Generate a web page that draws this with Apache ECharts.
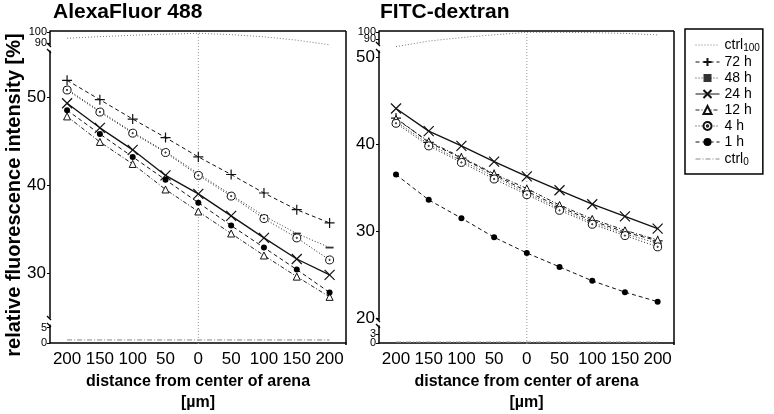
<!DOCTYPE html>
<html>
<head>
<meta charset="utf-8">
<script src="https://cdn.jsdelivr.net/npm/echarts@6/dist/echarts.min.js"></script>
<style>html,body{margin:0;padding:0;background:#fff}#c{width:774px;height:414px}</style>
</head>
<body>
<div id="c"></div>
<script>
// ---- data ----
var distances = [-200, -150, -100, -50, 0, 50, 100, 150, 200];
var xTickValues = [-200, -150, -100, -50, 0, 50, 100, 150, 200];
var seriesNames = ['ctrl100', '72 h', '48 h', '24 h', '12 h', '4 h', '1 h', 'ctrl0'];
var panelTitles = ['AlexaFluor 488', 'FITC-dextran'];

// AlexaFluor 488
var af_ctrl100 = [94.3, 95.8, 97.0, 98.0, 98.8, 97.6, 95.6, 92.6, 88.4];
var af_72h = [51.9, 49.7, 47.5, 45.4, 43.2, 41.2, 39.1, 37.2, 35.7];
var af_48h = [50.9, 48.4, 46.0, 43.8, 41.3, 38.9, 36.5, 34.5, 32.9];
var af_24h = [49.3, 46.5, 44.0, 41.1, 39.0, 36.5, 34.0, 31.6, 29.8];
var af_12h = [47.8, 44.9, 42.4, 39.5, 37.0, 34.5, 32.0, 29.6, 27.3];
var af_4h = [50.8, 48.3, 45.9, 43.7, 41.1, 38.75, 36.2, 34.0, 31.5];
var af_1h = [48.5, 45.8, 43.2, 40.6, 38.0, 35.4, 32.9, 30.4, 27.8];
var af_ctrl0 = [1.0, 1.0, 1.0, 1.0, 1.0, 1.0, 1.0, 1.0, 1.0];

// FITC-dextran
var fd_ctrl100 = [79, 87, 92, 96, 99.5, 99.5, 99, 98, 95.8];
var fd_72h = [43.0, 40.2, 38.4, 36.5, 34.6, 32.8, 31.2, 29.9, 28.9];
var fd_48h = [42.6, 40.0, 38.1, 36.3, 34.4, 32.6, 31.0, 29.7, 28.6];
var fd_24h = [44.1, 41.5, 39.8, 38.0, 36.3, 34.7, 33.1, 31.7, 30.3];
var fd_12h = [42.9, 40.3, 38.5, 36.6, 34.9, 33.0, 31.4, 30.1, 29.0];
var fd_4h = [42.4, 39.8, 37.9, 36.0, 34.2, 32.4, 30.8, 29.5, 28.2];
var fd_1h = [36.5, 33.6, 31.5, 29.3, 27.5, 25.9, 24.3, 23.0, 21.9];
var fd_ctrl0 = [0.3, 0.3, 0.3, 0.3, 0.3, 0.3, 0.3, 0.3, 0.3];

// y tick labels per segment
var afTopTicks = [90, 100], afMidTicks = [30, 40, 50], afBotTicks = [0, 5];
var fdTopTicks = [90, 100], fdMidTicks = [20, 30, 40, 50], fdBotTicks = [0, 3];

// ---- layout/style ----
var FONT = '"Liberation Sans", Arial, sans-serif';
var panels = [
  {left: 50, width: 296, segs: [
    {top: 31, height: 14, min: 88.2, max: 100.9, ticks: afTopTicks, small: true},
    {top: 51, height: 267, min: 24.9, max: 55.23, ticks: afMidTicks, small: false},
    {top: 325, height: 20, min: 0, max: 5.88, ticks: afBotTicks, small: true}
  ]},
  {left: 379, width: 295, segs: [
    {top: 31, height: 13, min: 82.8, max: 101.4, ticks: fdTopTicks, small: true},
    {top: 51, height: 269, min: 19.8, max: 50.7, ticks: fdMidTicks, small: false},
    {top: 326, height: 19, min: 0, max: 5.7, ticks: fdBotTicks, small: true}
  ]}
];

var styles = {
  'ctrl100': {line: {type: [1, 2], color: '#777', width: 1}, symbol: 'none'},
  '72 h': {line: {type: [4, 3], color: '#111', width: 1}, symbol: 'path://M5,0L5,10M0,5L10,5', size: 10,
           item: {color: 'none', borderColor: '#111', borderWidth: 1.2}},
  '48 h': {line: {type: [1, 2], color: '#333', width: 1}, symbol: 'path://M0,0L10,0L10,2L0,2Z', size: [8, 1.8], item: {color: '#333'}},
  '24 h': {line: {type: 'solid', color: '#111', width: 1.3}, symbol: 'path://M0,0L10,10M10,0L0,10', size: 10,
           item: {color: 'none', borderColor: '#111', borderWidth: 1.2}},
  '12 h': {line: {type: [4, 2, 1, 2], color: '#222', width: 1}, symbol: 'triangle', size: 7,
           item: {color: '#fff', borderColor: '#111', borderWidth: 1}},
  '4 h': {line: {type: [1, 2], color: '#222', width: 1},
          symbol: 'path://M5,0A5,5 0 1 1 4.99,0ZM5,4.2A0.8,0.8 0 1 1 4.99,4.2Z', size: 8,
          item: {color: '#fff', borderColor: '#111', borderWidth: 1}},
  '1 h': {line: {type: [4, 3], color: '#111', width: 1}, symbol: 'circle', size: 6, item: {color: '#000'}},
  'ctrl0': {line: {type: [5, 2, 1, 2], color: '#888', width: 1}, symbol: 'none'}
};

var grids = [], xAxes = [], yAxes = [], series = [], mainY = [];
panels.forEach(function (p, pi) {
  p.segs.forEach(function (s, si) {
    var gi = grids.length;
    grids.push({left: p.left, width: p.width, top: s.top, height: s.height, containLabel: false});
    var isBottom = si === 2;
    xAxes.push({
      type: 'value', gridIndex: gi, min: -226, max: 225, show: isBottom, position: 'bottom',
      axisLine: {show: true, onZero: false, lineStyle: {color: '#000', width: 1.5}},
      axisTick: {show: false},
      splitLine: {show: false},
      axisLabel: {customValues: xTickValues, formatter: function (v) { return String(Math.abs(v)); },
                  color: '#000', fontSize: 17, fontFamily: FONT, margin: 8},
      name: isBottom ? 'distance from center of arena\n[µm]' : '',
      nameLocation: 'middle', nameGap: 28,
      nameTextStyle: {fontSize: 16, fontWeight: 'bold', fontFamily: FONT, color: '#000', lineHeight: 21}
    });
    mainY[gi] = yAxes.length;
    yAxes.push({
      type: 'value', gridIndex: gi, min: s.min, max: s.max, position: 'left', offset: 0,
      axisLine: {show: true, onZero: false, lineStyle: {color: '#000', width: 1.5}},
      axisTick: {show: true, inside: false, length: 3, customValues: s.ticks, lineStyle: {color: '#000', width: 1}},
      splitLine: {show: false},
      axisLabel: {show: false}
    });
    s.ticks.forEach(function (v) {
      yAxes.push({
        type: 'value', gridIndex: gi, min: s.min, max: s.max, position: 'left', offset: 0,
        axisLine: {show: false, onZero: false}, axisTick: {show: false}, splitLine: {show: false},
        axisLabel: {customValues: [v], color: '#000', fontFamily: FONT,
                    fontSize: s.small ? 11 : 17, margin: s.small ? 3 : 4, lineHeight: s.small ? 10 : 17}
      });
    });
  });
});

function addSeries(name, vals, gridIndex) {
  var st = styles[name];
  series.push({
    type: 'line', name: name, xAxisIndex: gridIndex, yAxisIndex: mainY[gridIndex],
    data: distances.map(function (d, i) { return [d, vals[i]]; }),
    symbol: st.symbol, symbolSize: st.size || 6, showSymbol: st.symbol !== 'none',
    lineStyle: st.line, itemStyle: st.item || {color: st.line.color},
    clip: false, silent: true, animation: false, z: 3
  });
}
addSeries('ctrl100', af_ctrl100, 0);
addSeries('72 h', af_72h, 1);
addSeries('48 h', af_48h, 1);
addSeries('24 h', af_24h, 1);
addSeries('12 h', af_12h, 1);
addSeries('4 h', af_4h, 1);
addSeries('1 h', af_1h, 1);
addSeries('ctrl0', af_ctrl0, 2);
addSeries('ctrl100', fd_ctrl100, 3);
addSeries('72 h', fd_72h, 4);
addSeries('48 h', fd_48h, 4);
addSeries('24 h', fd_24h, 4);
addSeries('12 h', fd_12h, 4);
addSeries('4 h', fd_4h, 4);
addSeries('1 h', fd_1h, 4);
addSeries('ctrl0', fd_ctrl0, 5);

var legendData = seriesNames.map(function (n) {
  if (n === 'ctrl100' || n === 'ctrl0') {
    return {name: n, itemStyle: {opacity: 0, color: 'rgba(0,0,0,0)', borderWidth: 0}};
  }
  return {name: n};
});

var chart = echarts.init(document.getElementById('c'), null, {renderer: 'canvas'});
chart.setOption({
  animation: false,
  backgroundColor: '#fff',
  textStyle: {fontFamily: FONT},
  title: [
    {text: panelTitles[0], left: 53, top: 2, padding: 0, textStyle: {fontSize: 21, fontWeight: 'bold', color: '#000', fontFamily: FONT}},
    {text: panelTitles[1], left: 380, top: 2, padding: 0, textStyle: {fontSize: 21, fontWeight: 'bold', color: '#000', fontFamily: FONT}}
  ],
  legend: {
    data: legendData, orient: 'vertical', left: 685, top: 29,
    itemWidth: 24, itemHeight: 10, itemGap: 2,
    padding: [8, 3, 7, 10],
    borderColor: '#000', borderWidth: 1.5,
    selectedMode: false,
    lineStyle: {width: 1},
    textStyle: {fontSize: 14, color: '#000', fontFamily: FONT, lineHeight: 14,
      rich: {m: {fontSize: 14, lineHeight: 14, fontFamily: FONT, color: '#000'},
             s: {fontSize: 10, lineHeight: 14, fontFamily: FONT, color: '#000', padding: [6, 0, 0, 0]}}},
    formatter: function (n) {
      if (n === 'ctrl100') return '{m|ctrl}{s|100}';
      if (n === 'ctrl0') return '{m|ctrl}{s|0}';
      return n;
    }
  },
  grid: grids, xAxis: xAxes, yAxis: yAxes, series: series
});

// decorations: frame, center lines, axis-break marks
var g = [];
panels.forEach(function (p, pi) {
  var top = p.segs[0].top, bottom = p.segs[2].top + p.segs[2].height;
  var right = p.left + p.width;
  var x0 = chart.convertToPixel({xAxisIndex: pi * 3 + 2}, 0);
  g.push({type: 'line', shape: {x1: x0, y1: top, x2: x0, y2: bottom}, style: {stroke: '#999', lineWidth: 1, lineDash: [1, 2]}, z: 1, silent: true});
  g.push({type: 'line', shape: {x1: p.left, y1: top, x2: right, y2: top}, style: {stroke: '#000', lineWidth: 1.5}, z: 5, silent: true});
  g.push({type: 'line', shape: {x1: right, y1: top, x2: right, y2: bottom}, style: {stroke: '#000', lineWidth: 1.5}, z: 5, silent: true});
  var ends = [p.segs[0].top + p.segs[0].height, p.segs[1].top, p.segs[1].top + p.segs[1].height, p.segs[2].top];
  ends.forEach(function (y) {
    g.push({type: 'line', shape: {x1: p.left - 3, y1: y - 2, x2: p.left + 1, y2: y + 2}, style: {stroke: '#000', lineWidth: 1.3}, z: 5, silent: true});
  });
});
g.push({type: 'text', x: 14, y: 195, rotation: Math.PI / 2,
  style: {text: 'relative fluorescence intensity [%]', fontSize: 20, fontWeight: 'bold', fontFamily: FONT,
          fill: '#000', align: 'center', verticalAlign: 'middle'}, silent: true});
chart.setOption({graphic: g});
</script>
</body>
</html>
